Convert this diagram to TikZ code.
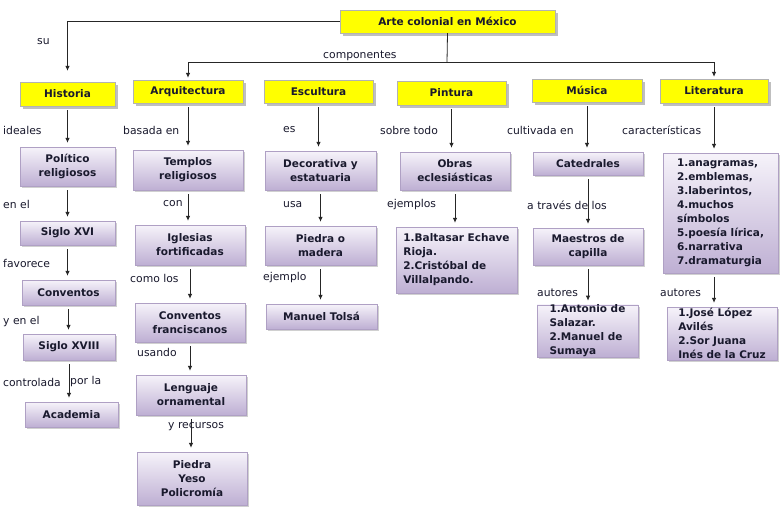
\documentclass[tikz,border=0pt]{standalone}
\usepackage{fontspec}
\setmainfont{DejaVu Sans}
\usetikzlibrary{shadows,arrows.meta}
\definecolor{txt}{RGB}{25,25,45}
\definecolor{lavA}{RGB}{246,243,250}
\definecolor{lavC}{RGB}{190,175,211}
\definecolor{lavD}{RGB}{175,160,196}
\definecolor{ylw}{RGB}{255,255,0}
\tikzset{
  ybox/.style={draw=gray!60, fill=ylw, text=txt, inner sep=0pt,
    font=\bfseries\fontsize{10.5}{14}\selectfont,
    drop shadow={shadow xshift=2.5pt, shadow yshift=-2.5pt, fill=gray!50, opacity=1}},
  lbox/.style={draw=lavD, top color=lavA, bottom color=lavC, text=txt, inner sep=0pt,
    font=\bfseries\fontsize{10.5}{14}\selectfont, align=center,
    drop shadow={shadow xshift=2pt, shadow yshift=-2pt, fill=gray!60, opacity=0.6}},
  lst/.style={lbox, align=left},
  lbl/.style={anchor=west, inner sep=0pt, text=txt, font=\fontsize{10.8}{13}\selectfont},
  arr/.style={draw=black!85, line width=0.8pt, -{Latex[length=5pt,width=4.5pt]},
    shorten >=4pt, shorten <=4pt},
  ln/.style={draw=black!85, line width=0.8pt},
}
\begin{document}
\begin{tikzpicture}[x=1pt,y=-1pt]
\useasboundingbox (0,0) rectangle (781,512);
\fill[white] (0,0) rectangle (781,512);

% top and headers
\node[ybox, minimum width=215pt, minimum height=23pt] (top) at (447.5,21.5) {Arte colonial en México};
\node[ybox, minimum width=95pt, minimum height=24pt] (hist) at (67.5,94) {Historia};
\node[ybox, minimum width=110pt, minimum height=23pt] (arq) at (188,91.5) {Arquitectura};
\node[ybox, minimum width=109pt, minimum height=23pt] (esc) at (318.5,91.5) {Escultura};
\node[ybox, minimum width=109pt, minimum height=24pt] (pin) at (451.5,93) {Pintura};
\node[ybox, minimum width=110pt, minimum height=23pt] (mus) at (587,90.5) {Música};
\node[ybox, minimum width=108pt, minimum height=24pt] (lit) at (714,91) {Literatura};

% Historia column
\node[lbox, minimum width=95pt, minimum height=39pt] (pol) at (67.5,166.5) {Político\\religiosos};
\node[lbox, minimum width=95pt, minimum height=24pt] (s16) at (67.5,233) {Siglo XVI};
\node[lbox, minimum width=93pt, minimum height=25pt] (conv) at (68.5,292.5) {Conventos};
\node[lbox, minimum width=92pt, minimum height=26pt] (s18) at (69,347) {Siglo XVIII};
\node[lbox, minimum width=93pt, minimum height=25pt] (acad) at (71.5,414.5) {Academia};

% Arquitectura column
\node[lbox, minimum width=110pt, minimum height=40pt] (temp) at (188,170) {Templos\\religiosos};
\node[lbox, minimum width=110pt, minimum height=40pt] (igl) at (190,245) {Iglesias\\fortificadas};
\node[lbox, minimum width=110pt, minimum height=39pt] (cfr) at (190,322.5) {Conventos\\franciscanos};
\node[lbox, minimum width=110pt, minimum height=40pt] (leng) at (191,395) {Lenguaje\\ornamental};
\node[lbox, minimum width=110pt, minimum height=53pt] (pied) at (192,478.5) {Piedra\\Yeso\\Policromía};

% Escultura column
\node[lbox, minimum width=111pt, minimum height=39pt] (deco) at (320.5,170.5) {Decorativa y\\estatuaria};
\node[lbox, minimum width=111pt, minimum height=39pt] (pom) at (320.5,245.5) {Piedra o\\madera};
\node[lbox, minimum width=111pt, minimum height=25pt] (tols) at (321.5,316.5) {Manuel Tolsá};

% Pintura column
\node[lbox, minimum width=110pt, minimum height=38pt] (obr) at (455,171) {Obras\\eclesiásticas};
\node[lst, minimum width=121pt, minimum height=66pt] (plist) at (456.5,260) {1.Baltasar Echave\\Rioja.\\2.Cristóbal de\\Villalpando.};

% Musica column
\node[lbox, minimum width=110pt, minimum height=23pt] (cat) at (588,163.5) {Catedrales};
\node[lbox, minimum width=110pt, minimum height=37pt] (maes) at (588,246.5) {Maestros de\\capilla};
\node[lst, minimum width=101pt, minimum height=52pt] (mlist) at (587.5,331) {1.Antonio de\\Salazar.\\2.Manuel de\\Sumaya};

% Literatura column
\node[lst, minimum width=115pt, minimum height=120pt] (llist) at (720.5,213) {1.anagramas,\\2.emblemas,\\3.laberintos,\\4.muchos\\símbolos\\5.poesía lírica,\\6.narrativa\\7.dramaturgia};
\node[lst, minimum width=110pt, minimum height=53pt] (alist) at (722,333.5) {1.José López\\Avilés\\2.Sor Juana\\Inés de la Cruz};

% connectors from the top
\coordinate (cj) at (447,62);
\draw[ln] (top.south) -- (cj);
\draw[arr, shorten <=0pt, shorten >=2pt] (cj) -| (arq.north);
\draw[arr, shorten <=0pt, shorten >=2pt] (cj) -| (lit.north);
\draw[arr, shorten <=0pt, shorten >=11pt] (top.west) -| (hist.north);

% column connectors
\foreach \a/\b in {hist/pol, pol/s16, s16/conv, conv/s18, s18/acad,
                   arq/temp, temp/igl, igl/cfr, cfr/leng, leng/pied,
                   esc/deco, deco/pom, pom/tols,
                   pin/obr, obr/plist,
                   mus/cat, cat/maes, maes/mlist,
                   lit/llist}
  \draw[arr] (\a.south) -- (\a.south |- \b.north);
\draw[arr] (lit.south |- llist.south) -- (lit.south |- alist.north);

% labels
\node[lbl] (lsu) at (37,42) {su};
\node[lbl] (lcomp) at (323,56) {componentes};
\node[lbl] (lid) at (3,130) {ideales};
\node[lbl] (lbas) at (123,130) {basada en};
\node[lbl] (les) at (283,130) {es};
\node[lbl] (lsob) at (380,130) {sobre todo};
\node[lbl] (lcul) at (507,130) {cultivada en};
\node[lbl] (lcar) at (622,130) {características};
\node[lbl] (lenel) at (3,204) {en el};
\node[lbl] (lcon) at (163,204) {con};
\node[lbl] (lusa) at (283,205) {usa};
\node[lbl] (lejs) at (387,205) {ejemplos};
\node[lbl] (ltra) at (527,205) {a través de los};
\node[lbl] (lfav) at (3,263) {favorece};
\node[lbl] (lcom) at (130,278) {como los};
\node[lbl] (lej) at (263,278) {ejemplo};
\node[lbl] (laut1) at (537,293) {autores};
\node[lbl] (laut2) at (660,293) {autores};
\node[lbl] (lyen) at (3,322) {y en el};
\node[lbl] (lusan) at (137,352) {usando};
\node[lbl] (lctr) at (3,382) {controlada};
\node[lbl] (lpor) at (70,382) {por la};
\node[lbl] (lyrec) at (168,427) {y recursos};
\end{tikzpicture}
\end{document}
